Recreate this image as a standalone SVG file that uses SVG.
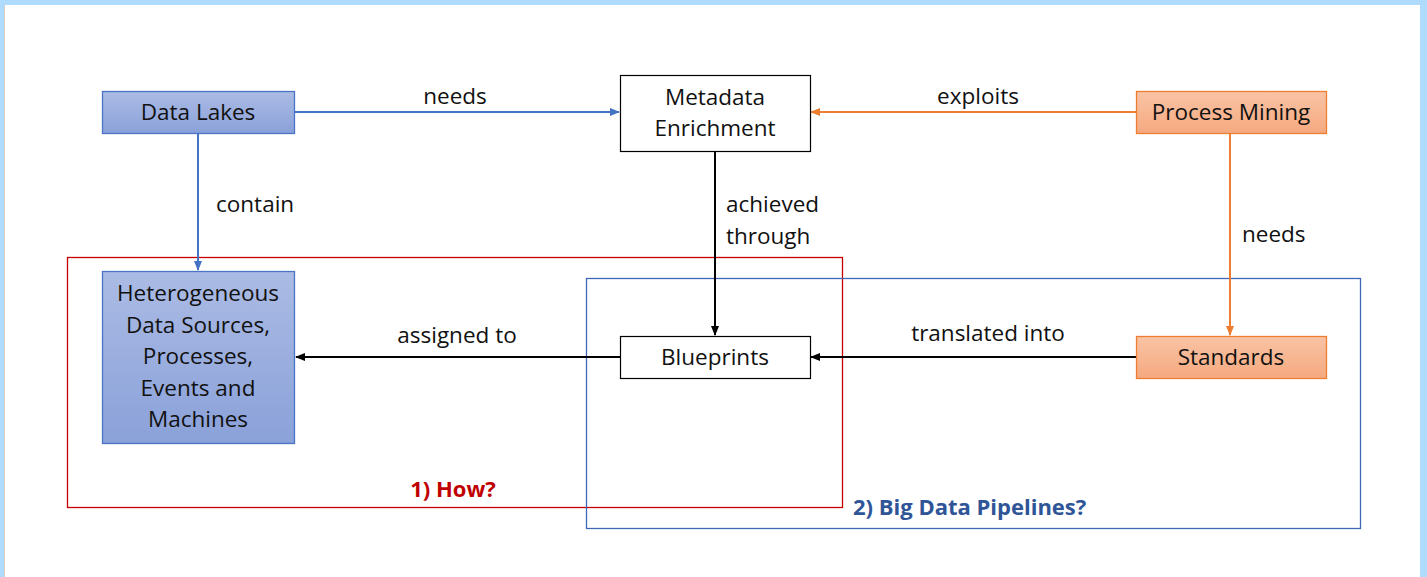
<svg xmlns="http://www.w3.org/2000/svg" width="1427" height="577" viewBox="0 0 1427 577">
<defs>
<linearGradient id="gBlue" x1="0" y1="0" x2="0" y2="1"><stop offset="0" stop-color="#abbbe4"/><stop offset="1" stop-color="#8aa1d9"/></linearGradient>
<linearGradient id="gOrange" x1="0" y1="0" x2="0" y2="1"><stop offset="0" stop-color="#f9c3a5"/><stop offset="1" stop-color="#f5a97f"/></linearGradient>
<marker id="aBlue" markerWidth="10" markerHeight="8" refX="9" refY="4" orient="auto" markerUnits="userSpaceOnUse"><path d="M0,0 L10,4 L0,8 z" fill="#4472c4"/></marker>
<marker id="aOrange" markerWidth="10" markerHeight="8" refX="9" refY="4" orient="auto" markerUnits="userSpaceOnUse"><path d="M0,0 L10,4 L0,8 z" fill="#ed7d31"/></marker>
<marker id="aBlack" markerWidth="10" markerHeight="8" refX="9" refY="4" orient="auto" markerUnits="userSpaceOnUse"><path d="M0,0 L10,4 L0,8 z" fill="#000"/></marker>
</defs>
<style>
text{font-family:"Open Sans","Noto Sans","Liberation Sans",sans-serif;font-size:22.5px;fill:#111}
.c{text-anchor:middle}
.b{font-weight:bold;font-size:22px}
.nb{stroke:#4a75c6;stroke-width:1.3}
.no{stroke:#ed7d31;stroke-width:1.3}
.nw{fill:#fff;stroke:#000;stroke-width:1.2}
.lb{stroke:#4472c4;stroke-width:2;fill:none}
.lo{stroke:#ed7d31;stroke-width:2;fill:none}
.lk{stroke:#000;stroke-width:2;fill:none}
</style>
<rect x="0" y="0" width="1427" height="577" fill="#afdcfe"/>
<rect x="4" y="5" width="1416" height="572" fill="#fff"/>
<line x1="4.5" y1="5" x2="4.5" y2="577" stroke="#d8d0c8" stroke-width="1"/>

<g id="region-how">
<rect x="67.5" y="257.5" width="775" height="250" fill="none" stroke="#c80000" stroke-width="1.3"/>
<text x="453" y="497" class="c b" style="fill:#c00000">1) How?</text>
</g>
<g id="region-pipelines">
<rect x="586.5" y="278.5" width="774" height="250" fill="none" stroke="#3f68b8" stroke-width="1.3"/>
<text x="853" y="515" class="b" style="fill:#2f5597">2) Big Data Pipelines?</text>
</g>

<g id="connectors">
<line class="lb" x1="295" y1="112" x2="619" y2="112" marker-end="url(#aBlue)"/>
<text x="455" y="104" class="c">needs</text>
<line class="lo" x1="1136" y1="112" x2="811" y2="112" marker-end="url(#aOrange)"/>
<text x="978" y="104" class="c">exploits</text>
<line class="lb" x1="198" y1="134" x2="198" y2="270" marker-end="url(#aBlue)"/>
<text x="216" y="212">contain</text>
<line class="lk" x1="715" y1="151" x2="715" y2="335" marker-end="url(#aBlack)"/>
<text x="726" y="212">achieved</text>
<text x="726" y="244">through</text>
<line class="lo" x1="1230" y1="134" x2="1230" y2="335" marker-end="url(#aOrange)"/>
<text x="1242" y="242">needs</text>
<line class="lk" x1="620" y1="357" x2="296" y2="357" marker-end="url(#aBlack)"/>
<text x="457" y="343" class="c">assigned to</text>
<line class="lk" x1="1136" y1="357" x2="811" y2="357" marker-end="url(#aBlack)"/>
<text x="988" y="341" class="c">translated into</text>
</g>

<g id="data-lakes">
<rect x="102.5" y="91.5" width="192" height="42" fill="url(#gBlue)" class="nb"/>
<text x="198" y="120" class="c">Data Lakes</text>
</g>
<g id="metadata-enrichment">
<rect x="620.5" y="75.5" width="190" height="76" class="nw"/>
<text x="715" y="105" class="c">Metadata</text>
<text x="715" y="136" class="c">Enrichment</text>
</g>
<g id="process-mining">
<rect x="1136.5" y="91.5" width="190" height="42" fill="url(#gOrange)" class="no"/>
<text x="1231" y="120" class="c">Process Mining</text>
</g>
<g id="heterogeneous">
<rect x="102.5" y="271.5" width="192" height="172" fill="url(#gBlue)" class="nb"/>
<text x="198" y="301" class="c">Heterogeneous</text>
<text x="198" y="333" class="c">Data Sources,</text>
<text x="198" y="364" class="c">Processes,</text>
<text x="198" y="396" class="c">Events and</text>
<text x="198" y="427" class="c">Machines</text>
</g>
<g id="blueprints">
<rect x="620.5" y="336.5" width="190" height="42" class="nw"/>
<text x="715" y="365" class="c">Blueprints</text>
</g>
<g id="standards">
<rect x="1136.5" y="336.5" width="190" height="42" fill="url(#gOrange)" class="no"/>
<text x="1231" y="365" class="c">Standards</text>
</g>
</svg>
